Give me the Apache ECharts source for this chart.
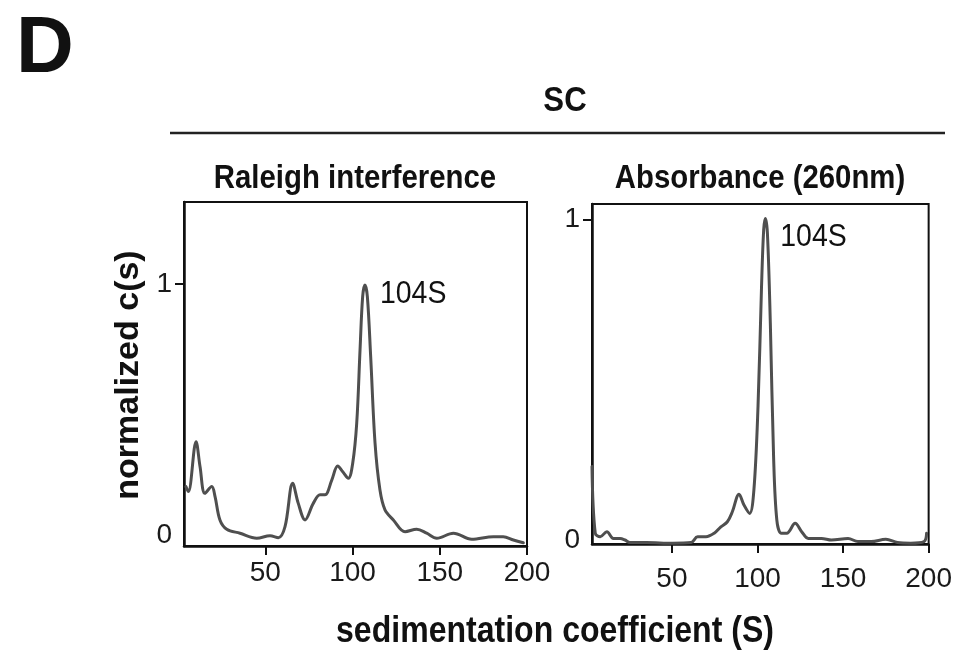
<!DOCTYPE html>
<html><head><meta charset="utf-8">
<script src="https://cdn.jsdelivr.net/npm/echarts@6/dist/echarts.min.js"></script>
<style>html,body{margin:0;padding:0;background:#fff}#c{width:955px;height:654px}</style>
</head><body><div id="c"></div>
<script>
// Raleigh interference (left panel): sedimentation coefficient (S) vs normalized c(s)
const leftS = [4.5, 5.9, 10.3, 12.6, 15.4, 19.3, 21.2, 24.0, 27.9, 35.5, 45.1, 52.7, 57.5, 61.3, 65.7, 68.9, 72.8, 77.5, 81.4, 84.2, 88.1, 91.5, 94.4, 97.6, 100.1, 102.4, 104.3, 105.8, 107.1, 108.5, 110.4, 112.9, 115.7, 118.6, 123.4, 130.1, 136.8, 142.5, 148.3, 157.8, 168.3, 180.7, 186.4, 192.2, 197.9];
const leftC = [0.193, 0.173, 0.372, 0.272, 0.166, 0.193, 0.153, 0.060, 0.023, 0.007, -0.013, -0.003, -0.011, 0.033, 0.206, 0.126, 0.060, 0.126, 0.160, 0.160, 0.219, 0.275, 0.252, 0.226, 0.286, 0.446, 0.738, 0.951, 0.997, 0.951, 0.711, 0.366, 0.180, 0.100, 0.060, 0.013, 0.023, 0.007, -0.013, 0.007, -0.017, -0.007, -0.007, -0.020, -0.031];
// Absorbance 260nm (right panel)
const rightS = [3.3, 5.2, 8.1, 12.0, 15.8, 19.7, 22.6, 25.5, 35.1, 50.5, 61.2, 65.0, 69.9, 74.7, 78.6, 82.4, 85.3, 89.2, 92.1, 95.4, 97.9, 100.3, 102.3, 103.6, 104.6, 105.8, 107.5, 109.4, 111.3, 113.9, 117.1, 122.0, 125.8, 129.7, 137.4, 143.2, 152.9, 158.7, 166.4, 175.0, 181.8, 189.5, 197.3, 198.8];
const rightC = [0.229, 0.021, 0.010, 0.026, 0.005, 0.005, 0.0, -0.008, -0.008, -0.010, -0.008, 0.010, 0.010, 0.021, 0.041, 0.057, 0.088, 0.143, 0.109, 0.083, 0.156, 0.416, 0.780, 0.967, 1.003, 0.956, 0.676, 0.260, 0.062, 0.021, 0.021, 0.052, 0.026, 0.005, 0.005, 0.0, 0.005, -0.005, -0.005, 0.002, -0.008, -0.010, -0.005, 0.021];

const xTicks = [50, 100, 150, 200];
const yTicks = [0, 1];
const yTickMarks = [1];
const panelTitles = ['Raleigh interference', 'Absorbance (260nm)'];
const peakLabel = '104S';
const peakLabelPos = [[115.7, 0.96], [113.3, 0.946]];
const figLetter = 'D';
const groupTitle = 'SC';
const xTitle = 'sedimentation coefficient (S)';
const yTitle = 'normalized c(s)';

const FONT = "'Liberation Sans', Arial, sans-serif";
const chart = echarts.init(document.getElementById('c'));

function xAxis(g, min, margin) {
  return {
    type: 'value', gridIndex: g, min: min, max: 200,
    axisLine: {show: true, onZero: false, lineStyle: {color: '#111', width: 2.5}},
    axisTick: {show: true, customValues: xTicks, length: 9, lineStyle: {color: '#111', width: 2}},
    axisLabel: {customValues: xTicks, fontSize: 28, color: '#1a1a1a', margin: margin, fontFamily: FONT},
    splitLine: {show: false}
  };
}
function yAxis(g, min, max, margin) {
  return {
    type: 'value', gridIndex: g, min: min, max: max,
    axisLine: {show: true, onZero: false, lineStyle: {color: '#111', width: 2.5}},
    axisTick: {show: true, customValues: yTickMarks, length: 9, lineStyle: {color: '#111', width: 2}},
    axisLabel: {customValues: yTicks, fontSize: 28, color: '#1a1a1a', margin: margin, fontFamily: FONT},
    splitLine: {show: false}
  };
}
function line(g, xs, ys) {
  return {
    type: 'line', xAxisIndex: g, yAxisIndex: g,
    data: xs.map((s, i) => [s, ys[i]]),
    showSymbol: false, smooth: 0.35,
    lineStyle: {color: '#4f4f4f', width: 3, join: 'round', cap: 'round'},
    silent: true, animation: false
  };
}

chart.setOption({
  animation: false,
  grid: [
    {left: 184, top: 202, width: 343, height: 344, show: true, borderColor: '#111', borderWidth: 2},
    {left: 592, top: 204, width: 339, height: 340, show: true, borderColor: '#111', borderWidth: 2}
  ],
  xAxis: [xAxis(0, 3.4, 13), xAxis(1, 3.3, 21)],
  yAxis: [yAxis(0, -0.044, 1.328, 12), yAxis(1, -0.0125, 1.048, 12)],
  series: [line(0, leftS, leftC), line(1, rightS, rightC)]
});

const p0 = chart.convertToPixel({gridIndex: 0}, peakLabelPos[0]);
const p1 = chart.convertToPixel({gridIndex: 1}, peakLabelPos[1]);
const SQ = 0.89;
function txt(x, y, text, size, bold, sx, rot, align) {
  return {
    type: 'text', x: x, y: y, scaleX: sx || 1, rotation: rot || 0, silent: true,
    style: {text: text, x: 0, y: 0, align: align || 'center', verticalAlign: 'middle',
      font: (bold ? 'bold ' : '') + size + 'px ' + FONT, fill: '#111'}
  };
}
chart.setOption({
  graphic: [
    txt(45, 50, figLetter, 80, true, 1),
    txt(565, 101, groupTitle, 35, true, SQ),
    {type: 'line', silent: true, shape: {x1: 170, y1: 133, x2: 945, y2: 133}, style: {stroke: '#222', lineWidth: 2.5}},
    txt(355, 179, panelTitles[0], 33, true, SQ),
    txt(760, 179, panelTitles[1], 33, true, SQ),
    txt(p0[0], p0[1], peakLabel, 32, false, SQ, 0, 'left'),
    txt(p1[0], p1[1], peakLabel, 32, false, SQ, 0, 'left'),
    txt(555, 632, xTitle, 36, true, SQ),
    txt(129, 375, yTitle, 34, true, 1, Math.PI / 2)
  ]
});
</script>
</body></html>
